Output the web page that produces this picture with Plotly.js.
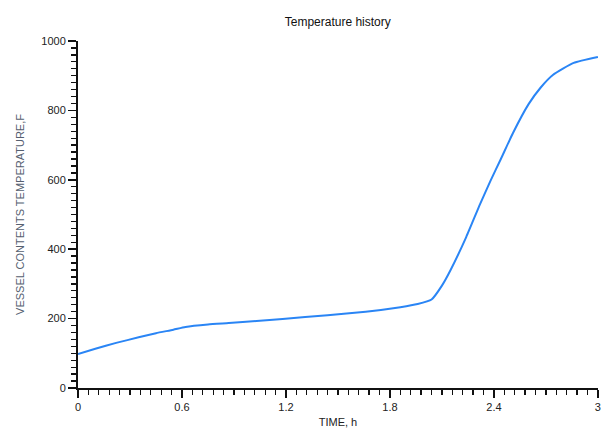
<!DOCTYPE html>
<html>
<head>
<meta charset="utf-8">
<script src="https://cdn.plot.ly/plotly-3.0.1.min.js"></script>
<style>html,body{margin:0;padding:0;background:#fff;}#chart{width:601px;height:440px;}</style>
</head>
<body>
<div id="chart"></div>
<script>
const timeH = [0, 0.1, 0.22, 0.35, 0.45, 0.55, 0.62, 0.75, 0.87, 1.03, 1.18, 1.44, 1.66, 1.86, 1.96, 2.04, 2.1, 2.15, 2.24, 2.32, 2.38, 2.44, 2.51, 2.6, 2.67, 2.74, 2.86, 3.0];
const tempF = [98, 113, 130, 146, 158, 168, 176, 183, 187, 193, 199, 210, 220, 233, 242, 255, 295, 340, 435, 530, 597, 660, 735, 818, 866, 902, 937, 954];
const xTicks = [0, 0.6, 1.2, 1.8, 2.4, 3];
const xTickLabels = ["0", "0.6", "1.2", "1.8", "2.4", "3"];
const yTicks = [0, 200, 400, 600, 800, 1000];

const font = "Liberation Sans, Arial, sans-serif";
Plotly.newPlot("chart", [{
  x: timeH, y: tempF, type: "scatter", mode: "lines",
  line: {color: "#2a85f5", width: 2, shape: "spline", smoothing: 0.5},
  hoverinfo: "skip", cliponaxis: false
}], {
  width: 601, height: 440,
  margin: {l: 78, r: 3, t: 41, b: 52},
  paper_bgcolor: "#fff", plot_bgcolor: "#fff",
  showlegend: false,
  title: {text: "Temperature history", x: 0.562, xanchor: "center", y: 0.95, yanchor: "middle",
          font: {family: font, size: 12, color: "#111"}},
  xaxis: {
    range: [0, 3.0005], tickmode: "array", tickvals: xTicks, ticktext: xTickLabels,
    ticklabeloverflow: "allow",
    showgrid: false, zeroline: false, showline: true, linecolor: "#111", linewidth: 2,
    ticks: "outside", ticklen: 8, tickwidth: 1.5, tickcolor: "#111",
    minor: {dtick: 0.06, tick0: 0, ticks: "outside", ticklen: 5, tickwidth: 1.3, tickcolor: "#111", showgrid: false},
    tickfont: {family: font, size: 11, color: "#222"},
    title: {text: "TIME, h", standoff: 6, font: {family: font, size: 11, color: "#222"}},
    fixedrange: true
  },
  yaxis: {
    range: [0, 1000], tickmode: "array", tickvals: yTicks,
    showgrid: false, zeroline: false, showline: true, linecolor: "#111", linewidth: 2,
    ticks: "outside", ticklen: 8, tickwidth: 1.5, tickcolor: "#111",
    minor: {dtick: 20, tick0: 0, ticks: "outside", ticklen: 5, tickwidth: 1.3, tickcolor: "#111", showgrid: false},
    tickfont: {family: font, size: 11, color: "#222"},
    title: {text: "VESSEL CONTENTS TEMPERATURE,F", standoff: 14, font: {family: font, size: 11, color: "#556070"}},
    fixedrange: true
  }
}, {staticPlot: true, displayModeBar: false});
</script>
</body>
</html>
